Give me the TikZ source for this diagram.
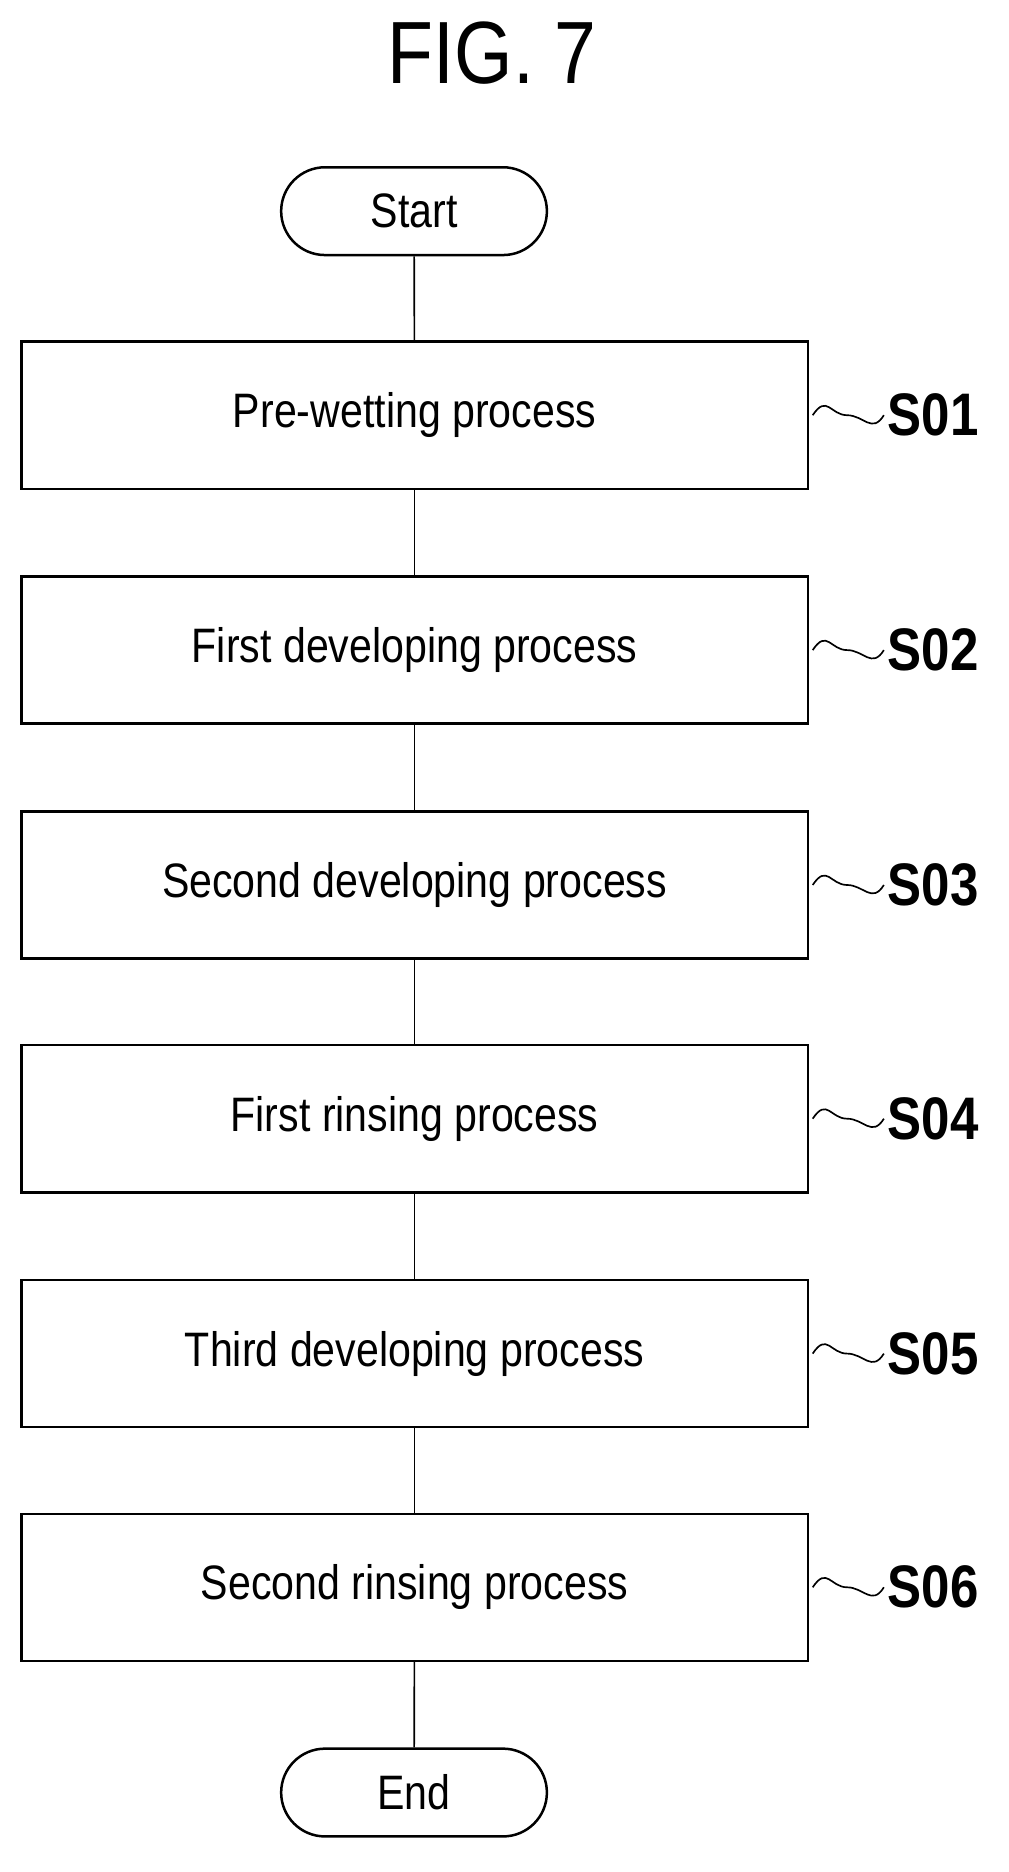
\documentclass[tikz,border=0pt]{standalone}
\usepackage{fontspec}
\setmainfont{Liberation Sans}[FakeStretch=0.85]
\begin{document}
\begin{tikzpicture}[x=0.05cm,y=-0.05cm,
  box/.style={draw,line width=3pt,minimum width=663*0.05cm,minimum height=124*0.05cm,inner sep=0pt,font=\fontsize{58}{66}\selectfont},
  term/.style={draw,line width=3pt,rounded corners=37*0.05cm,minimum width=224*0.05cm,minimum height=74*0.05cm,inner sep=0pt,font=\fontsize{58}{66}\selectfont},
  lab/.style={anchor=west,inner sep=0pt,font=\fontsize{72}{76}\selectfont},
  conn/.style={line width=2pt}]
\useasboundingbox (0,0) rectangle (850,1578);
\node[font=\fontsize{106}{110}\selectfont] (title) at (415,45) {FIG. 7};
\node[term] (start) at (349,178) {Start};
\node[box] (s1) at (349.5,350) {Pre-wetting process};
\node[box] (s2) at (349.5,548) {First developing process};
\node[box] (s3) at (349.5,746) {Second developing process};
\node[box] (s4) at (349.5,943) {First rinsing process};
\node[box] (s5) at (349.5,1141) {Third developing process};
\node[box] (s6) at (349.5,1338) {Second rinsing process};
\node[term] (end) at (349,1511) {End};
\draw[conn] (start) -- (s1);
\draw[conn] (s1) -- (s2);
\draw[conn] (s2) -- (s3);
\draw[conn] (s3) -- (s4);
\draw[conn] (s4) -- (s5);
\draw[conn] (s5) -- (s6);
\draw[conn] (s6) -- (end);
\foreach \n/\t in {s1/S01,s2/S02,s3/S03,s4/S04,s5/S05,s6/S06}{
  \coordinate (a\n) at ([xshift=3*0.05cm]\n.east);
  \coordinate (b\n) at ([xshift=63*0.05cm]\n.east);
  \draw[conn] (a\n) .. controls ++(12,-18) and ++(-14,0) .. ([xshift=32*0.05cm]\n.east)
     .. controls ++(14,0) and ++(-10,16) .. (b\n);
  \node[lab] (l\n) at ([xshift=66*0.05cm]\n.east) {\textbf{\t}};
}
\end{tikzpicture}
\end{document}
